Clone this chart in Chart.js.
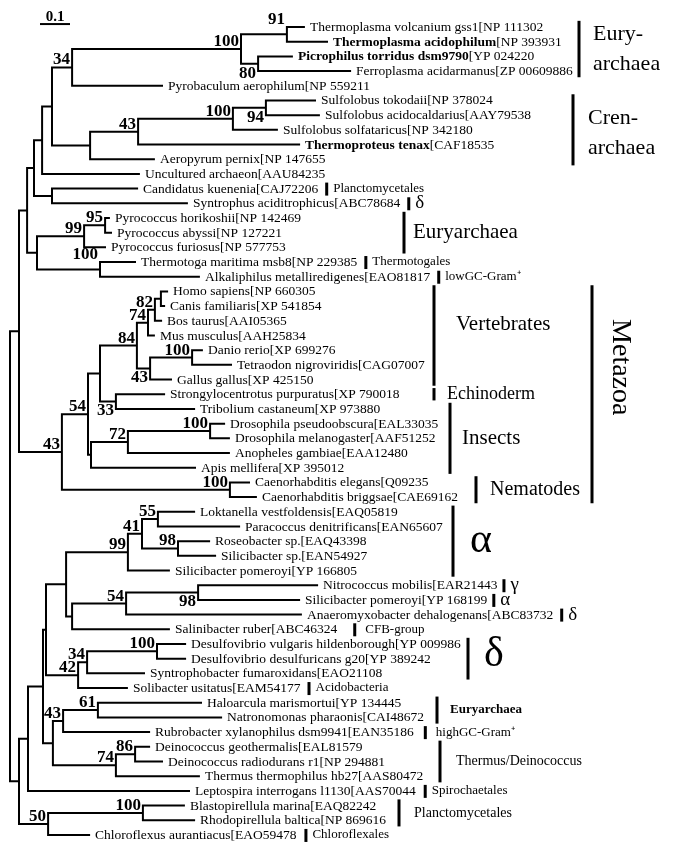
<!DOCTYPE html>
<html>
<head>
<meta charset="utf-8">
<script src="https://cdn.jsdelivr.net/npm/chart.js@4.4.1/dist/chart.umd.min.js"></script>
<style>
  html, body { margin: 0; padding: 0; background: #fff; }
  #wrap { width: 685px; height: 865px; }
</style>
</head>
<body>
<div id="wrap"><canvas id="tree" width="685" height="865"></canvas></div>
<script>
// leaves, top to bottom (row index = position on the y axis)
const leafNames = [
  'Thermoplasma volcanium gss1[NP 111302', 'Thermoplasma acidophilum[NP 393931',
  'Picrophilus torridus dsm9790[YP 024220', 'Ferroplasma acidarmanus[ZP 00609886',
  'Pyrobaculum aerophilum[NP 559211', 'Sulfolobus tokodaii[NP 378024',
  'Sulfolobus acidocaldarius[AAY79538', 'Sulfolobus solfataricus[NP 342180',
  'Thermoproteus tenax[CAF18535', 'Aeropyrum pernix[NP 147655',
  'Uncultured archaeon[AAU84235', 'Candidatus kuenenia[CAJ72206',
  'Syntrophus aciditrophicus[ABC78684', 'Pyrococcus horikoshii[NP 142469',
  'Pyrococcus abyssi[NP 127221', 'Pyrococcus furiosus[NP 577753',
  'Thermotoga maritima msb8[NP 229385', 'Alkaliphilus metalliredigenes[EAO81817',
  'Homo sapiens[NP 660305', 'Canis familiaris[XP 541854', 'Bos taurus[AAI05365',
  'Mus musculus[AAH25834', 'Danio rerio[XP 699276', 'Tetraodon nigroviridis[CAG07007',
  'Gallus gallus[XP 425150', 'Strongylocentrotus purpuratus[XP 790018',
  'Tribolium castaneum[XP 973880', 'Drosophila pseudoobscura[EAL33035',
  'Drosophila melanogaster[AAF51252', 'Anopheles gambiae[EAA12480',
  'Apis mellifera[XP 395012', 'Caenorhabditis elegans[Q09235',
  'Caenorhabditis briggsae[CAE69162', 'Loktanella vestfoldensis[EAQ05819',
  'Paracoccus denitrificans[EAN65607', 'Roseobacter sp.[EAQ43398',
  'Silicibacter sp.[EAN54927', 'Silicibacter pomeroyi[YP 166805',
  'Nitrococcus mobilis[EAR21443', 'Silicibacter pomeroyi[YP 168199',
  'Anaeromyxobacter dehalogenans[ABC83732', 'Salinibacter ruber[ABC46324',
  'Desulfovibrio vulgaris hildenborough[YP 009986', 'Desulfovibrio desulfuricans g20[YP 389242',
  'Syntrophobacter fumaroxidans[EAO21108', 'Solibacter usitatus[EAM54177',
  'Haloarcula marismortui[YP 134445', 'Natronomonas pharaonis[CAI48672',
  'Rubrobacter xylanophilus dsm9941[EAN35186', 'Deinococcus geothermalis[EAL81579',
  'Deinococcus radiodurans r1[NP 294881', 'Thermus thermophilus hb27[AAS80472',
  'Leptospira interrogans l1130[AAS70044', 'Blastopirellula marina[EAQ82242',
  'Rhodopirellula baltica[NP 869616', 'Chloroflexus aurantiacus[EAO59478'
];
// distance of each tip from the root
const leafDepth = [
  0.983, 1.060, 0.943, 1.137, 0.510, 1.020, 1.033, 0.893, 0.967, 0.483,
  0.433, 0.427, 0.593, 0.333, 0.340, 0.320, 0.420, 0.633, 0.527, 0.517,
  0.507, 0.483, 0.643, 0.740, 0.540, 0.517, 0.617, 0.717, 0.733, 0.733,
  0.620, 0.800, 0.823, 0.617, 0.767, 0.667, 0.687, 0.533, 1.027, 0.967,
  0.973, 0.533, 0.587, 0.587, 0.450, 0.393, 0.640, 0.707, 0.467, 0.467,
  0.510, 0.633, 0.600, 0.583, 0.617, 0.267
];
const boldLeaves = [1, 2, 8];

// internal nodes: children (number = leaf row, 'nK' = node K), depth, bootstrap
const nodeKids = [
  [0, 1], [2, 3], ['n0', 'n1'], ['n2', 4], [5, 6], ['n4', 7], ['n5', 8], ['n6', 9],
  ['n3', 'n7'], ['n8', 10], [11, 12], ['n9', 'n10'], [13, 14], ['n12', 15], [16, 17],
  ['n13', 'n14'], ['n11', 'n15'], [18, 19], ['n17', 20], ['n18', 21], [22, 23],
  ['n20', 24], ['n19', 'n21'], [25, 26], ['n22', 'n23'], [27, 28], ['n25', 29],
  ['n26', 30], ['n24', 'n27'], [31, 32], ['n28', 'n29'], ['n16', 'n30'], [33, 34],
  [35, 36], ['n32', 'n33'], ['n34', 37], [38, 39], ['n36', 40], ['n37', 41],
  ['n35', 'n38'], [42, 43], ['n40', 44], ['n41', 45], ['n39', 'n42'], [46, 47],
  ['n44', 48], [49, 50], ['n46', 51], ['n45', 'n47'], ['n43', 'n48'], ['n49', 52],
  [53, 54], ['n51', 55], ['n50', 'n52'], ['n31', 'n53']
];
const nodeDepth = [
  0.923, 0.827, 0.770, 0.207, 0.853, 0.743, 0.427, 0.267, 0.140, 0.107,
  0.140, 0.080, 0.317, 0.247, 0.300, 0.090, 0.057, 0.503, 0.483, 0.460,
  0.607, 0.467, 0.423, 0.353, 0.300, 0.667, 0.393, 0.270, 0.260, 0.733,
  0.173, 0.030, 0.493, 0.560, 0.440, 0.393, 0.627, 0.387, 0.207, 0.187,
  0.490, 0.257, 0.227, 0.120, 0.293, 0.177, 0.417, 0.353, 0.143, 0.110,
  0.060, 0.443, 0.127, 0.030, 0.000
];
const nodeSupport = [
  91, 80, 100, 34, 94, 100, 43, null, null, null,
  null, null, 95, 99, 100, null, null, null, 82, 74,
  100, 43, 84, 33, null, 100, 72, null, 54, 100,
  43, null, 55, 98, 41, 99, 98, 54, null, null,
  100, 34, 42, null, 61, 43, 86, 74, null, null,
  null, 100, 50, null, null
];

// clade groups on the right
const groupLabels = ['Eury-\narchaea', 'Cren-\narchaea', 'Euryarchaea', 'Vertebrates', 'Echinoderm',
  'Insects', 'Nematodes', 'Metazoa', 'α', 'δ', 'Euryarchaea', 'Thermus/Deinococcus', 'Planctomycetales'];
const groupFirst = [0, 5, 13, 18, 25, 26, 31, 18, 33, 42, 46, 49, 53];
const groupLast = [3, 9, 15, 24, 25, 30, 32, 32, 37, 44, 47, 51, 54];

// single-leaf tags written after the label
const tagLeaf = [11, 12, 16, 17, 38, 39, 40, 41, 45, 48, 52, 55];
const tagText = ['Planctomycetales', 'δ', 'Thermotogales', 'lowGC-Gram⁺', 'γ', 'α', 'δ',
  'CFB-group', 'Acidobacteria', 'highGC-Gram⁺', 'Spirochaetales', 'Chloroflexales'];

const scaleBarFrom = 0.1;
const scaleBarLength = 0.1;
const scaleBarLabel = '0.1';

// ---- layout ----
const W = 685, H = 865;
const ROW0_PX = 27, ROW_PX = 14.69, ROOT_PX = 10, UNIT_PX = 300;
const LEAF_FONT = 13.5;
const supportPos = [
  't', 'b', 'a', 'a', 'b', 'a', 'a', '', '', '',
  '', '', 'a', 'a', 't', '', '', '', 'a', 'a',
  'a', 'b', 'a', 'b', '', 'a', 'a', '', 'a', 'a',
  'a', '', 'a', 'a', 'a', 'a', 'b', 'a', '', '',
  'a', 'a', 'a', '', 'a', 'a', 'a', 'a', '', '',
  '', 'a', 'a', '', ''
];
const groupBarPx = [579, 573, 404, 434, 434, 450, 476, 592, 453, 468, 437, 440, 399];
const groupFont = ['22px', '22px', '21px', '21px', '18px', '21px', '20px', '28px', '42px', '42px', 'bold 13px', '14px', '14px'];
const groupDx = [14, 15, 9, 22, 13, 12, 14, 28, 17, 16, 13, 16, 15];
const groupDy = [0, 3, 0, -11, 0, 0, 0, -27, 0, -4, 0, 0, 0];
const BAR_PAD = 0.42;
const tagFont = ['13px', '19px', '13px', '13px', '19px', '19px', '19px', '13px', '13px', '13px', '13px', '13px'];
const tagGap = [7, 7, 7, 7, 5, 5, 7, 16, 7, 10, 8, 8];

const FONT = '"Liberation Serif", "Times New Roman", serif';
const font = (spec) => spec + ' ' + FONT;

function rowOf(ref) {
  return typeof ref === 'number' ? ref : nodeRow[+ref.slice(1)];
}
function depthOf(ref) {
  return typeof ref === 'number' ? leafDepth[ref] : nodeDepth[+ref.slice(1)];
}
const nodeRow = [];
nodeKids.forEach((kids, k) => {
  nodeRow[k] = (rowOf(kids[0]) + rowOf(kids[kids.length - 1])) / 2;
});

const branches = [];
nodeKids.forEach((kids, k) => {
  const first = kids[0], last = kids[kids.length - 1];
  branches.push(
    { x: depthOf(first), y: rowOf(first) },
    { x: nodeDepth[k], y: rowOf(first) },
    { x: nodeDepth[k], y: rowOf(last) },
    { x: depthOf(last), y: rowOf(last) },
    { x: null, y: null }
  );
});

const leafEnd = [];
const treeText = {
  id: 'treeText',
  afterDatasetsDraw(chart) {
    const { ctx } = chart;
    const xs = chart.scales.x, ys = chart.scales.y;
    ctx.save();
    ctx.fillStyle = '#000';
    ctx.textBaseline = 'middle';
    ctx.textAlign = 'left';

    leafNames.forEach((name, i) => {
      let cx = xs.getPixelForValue(leafDepth[i]) + 5;
      const cy = ys.getPixelForValue(i) + 0.5;
      if (boldLeaves.includes(i)) {
        const cut = name.indexOf('[');
        ctx.font = font('bold ' + LEAF_FONT + 'px');
        ctx.fillText(name.slice(0, cut), cx, cy);
        cx += ctx.measureText(name.slice(0, cut)).width;
        name = name.slice(cut);
      }
      ctx.font = font(LEAF_FONT + 'px');
      ctx.fillText(name, cx, cy);
      leafEnd[i] = cx + ctx.measureText(name).width;
    });

    tagLeaf.forEach((leaf, t) => {
      const cy = ys.getPixelForValue(leaf);
      const bx = leafEnd[leaf] + tagGap[t];
      ctx.fillRect(bx, cy - 6, 3, 13);
      ctx.font = font(tagFont[t]);
      ctx.fillText(tagText[t], bx + 8 + (tagGap[t] > 8 ? 4 : 0), cy);
    });

    ctx.font = font('bold 17px');
    nodeSupport.forEach((s, k) => {
      if (s == null) return;
      const nx = xs.getPixelForValue(nodeDepth[k]) - 2;
      const cy = ys.getPixelForValue(nodeRow[k]);
      const ty = ys.getPixelForValue(rowOf(nodeKids[k][0]));
      ctx.textAlign = 'right';
      if (supportPos[k] === 'b') {
        ctx.textBaseline = 'top';
        ctx.fillText(String(s), nx, cy + 1);
      } else {
        ctx.textBaseline = 'alphabetic';
        ctx.fillText(String(s), nx, (supportPos[k] === 't' ? ty : cy) - 3);
      }
    });

    ctx.textAlign = 'left';
    ctx.textBaseline = 'middle';
    groupLabels.forEach((label, g) => {
      const top = ys.getPixelForValue(groupFirst[g] - BAR_PAD);
      const bottom = ys.getPixelForValue(groupLast[g] + BAR_PAD);
      const bx = groupBarPx[g];
      ctx.fillRect(bx - 1.5, top, 3, bottom - top);
      const mid = (top + bottom) / 2 + groupDy[g];
      ctx.font = font(groupFont[g]);
      if (label === 'Metazoa') {
        ctx.save();
        ctx.translate(bx + groupDx[g], mid);
        ctx.rotate(Math.PI / 2);
        ctx.textAlign = 'center';
        ctx.fillText(label, 0, 0);
        ctx.restore();
        return;
      }
      const lines = label.split('\n');
      const lh = 30;
      lines.forEach((ln, j) => {
        ctx.fillText(ln, bx + groupDx[g], mid + (j - (lines.length - 1) / 2) * lh);
      });
    });

    // scale bar label
    ctx.font = font('bold 15px');
    ctx.textAlign = 'center';
    ctx.textBaseline = 'alphabetic';
    ctx.fillText(scaleBarLabel, xs.getPixelForValue(scaleBarFrom + scaleBarLength / 2), ys.getPixelForValue(-0.2) - 3);
    ctx.restore();
  }
};

new Chart(document.getElementById('tree'), {
  type: 'line',
  data: {
    datasets: [
      {
        data: branches,
        borderColor: '#000',
        borderWidth: 2,
        pointRadius: 0,
        tension: 0,
        fill: false,
        spanGaps: false,
        borderJoinStyle: 'miter',
      },
      {
        data: [{ x: scaleBarFrom, y: -0.2 }, { x: scaleBarFrom + scaleBarLength, y: -0.2 }],
        borderColor: '#000',
        borderWidth: 2,
        pointRadius: 0,
        fill: false,
      },
    ],
  },
  options: {
    responsive: false,
    devicePixelRatio: 1,
    animation: false,
    layout: { padding: 0 },
    plugins: { legend: { display: false }, tooltip: { enabled: false } },
    scales: {
      x: { type: 'linear', display: false, min: -ROOT_PX / UNIT_PX, max: (W - ROOT_PX) / UNIT_PX },
      y: { type: 'linear', display: false, reverse: true, min: -ROW0_PX / ROW_PX, max: (H - ROW0_PX) / ROW_PX },
    },
  },
  plugins: [treeText],
});
</script>
</body>
</html>
